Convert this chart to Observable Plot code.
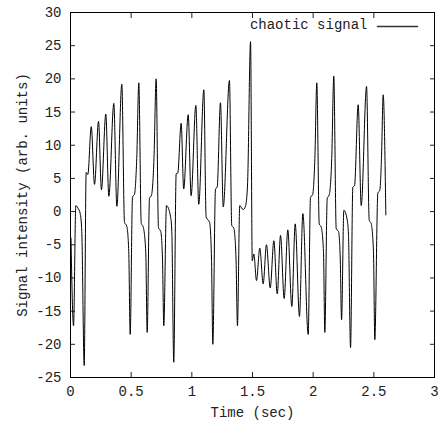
<!DOCTYPE html>
<html><head><meta charset="utf-8">
<script src="https://cdn.jsdelivr.net/npm/d3@7"></script>
<script src="https://cdn.jsdelivr.net/npm/@observablehq/plot@0.6"></script>
<style>body{margin:0;background:#fff}</style>
</head><body><div id="chart"></div>
<script>
const time = [0.004,0.025,0.044,0.062,0.080,0.093,0.113,0.129,0.143,0.171,0.198,0.231,0.255,0.291,0.316,0.357,0.382,0.423,0.445,0.464,0.480,0.492,0.511,0.527,0.546,0.563,0.583,0.599,0.620,0.632,0.651,0.668,0.688,0.706,0.725,0.744,0.758,0.769,0.791,0.824,0.835,0.851,0.871,0.884,0.912,0.933,0.970,0.994,1.033,1.057,1.099,1.118,1.146,1.162,1.173,1.195,1.209,1.236,1.259,1.310,1.329,1.346,1.364,1.376,1.395,1.423,1.442,1.459,1.484,1.498,1.511,1.533,1.560,1.588,1.615,1.646,1.676,1.704,1.731,1.761,1.791,1.824,1.852,1.887,1.915,1.959,1.978,1.995,2.014,2.030,2.050,2.066,2.085,2.096,2.116,2.132,2.153,2.170,2.190,2.209,2.223,2.234,2.253,2.281,2.291,2.308,2.327,2.341,2.371,2.396,2.440,2.462,2.478,2.497,2.508,2.533,2.549,2.563,2.577,2.599];
const signal = [-4,-17.2,0.9,0.5,-0.3,-3,-23.2,5.9,5.6,12.8,4.1,13.6,3.3,14.7,2.3,16.3,0.8,19.2,-1.6,-2.2,-6,-18.5,2.2,2.6,8,19.4,-1.75,-2.3,-6,-18.2,2,2.5,8,20,-2.4,-3,-7,-17.2,0.9,-0.7,-3,-22.7,5.7,5.8,13.3,3.4,14.6,2.4,16,1.1,18.35,-0.85,-1.6,-7,-20,3.4,3.7,16.4,0.7,19.75,-2.1,-2.5,-7,-17.2,0.9,0.3,0.8,4,25.6,-7.4,-6.4,-10.4,-5.5,-10.9,-5,-11.5,-4.4,-12.4,-3.6,-13.1,-2.75,-14.3,-1.85,-15.8,-0.3,-18.5,2.2,2.5,8,19.4,-1.85,-2.3,-6,-18.2,2,2.5,8,20.4,-2.6,-3,-7,-16.3,0.2,-1.3,-3.5,-20.5,3.7,3.9,16.1,0.9,18.85,-1.3,-1.8,-6,-19.3,2.8,3.2,8,17.6,-0.5];
const xTicks = [0, 0.5, 1, 1.5, 2, 2.5, 3];
const yTicks = [-25, -20, -15, -10, -5, 0, 5, 10, 15, 20, 25, 30];
const seriesLabel = "chaotic signal";
const xLabel = "Time (sec)";
const yLabel = "Signal intensity (arb. units)";

const data = time.map((t, i) => ({t, v: signal[i]}));
const lineShape = {draw(c, l) { c.moveTo(0, 0); c.lineTo(0, -l); }};

const chart = Plot.plot({
  width: 440, height: 421,
  marginLeft: 70, marginRight: 6, marginTop: 12, marginBottom: 44,
  style: {fontFamily: "'Liberation Mono', monospace", fontSize: "14px", color: "#222", background: "#fff"},
  x: {domain: [0, 3]},
  y: {domain: [-25, 30]},
  marks: [
    Plot.axisX(xTicks, {anchor: "bottom", tickSize: -5, tickPadding: 14, label: xLabel, labelAnchor: "center", labelOffset: 39, labelArrow: "none", tickFormat: d => String(d)}),
    Plot.axisX(xTicks, {anchor: "top", tickSize: -5, fill: "none", label: null}),
    Plot.axisY(yTicks, {anchor: "left", tickSize: -5, tickPadding: 14, label: yLabel, labelAnchor: "center", labelOffset: 53, labelArrow: "none", tickFormat: d => String(d)}),
    Plot.axisY(yTicks, {anchor: "right", tickSize: -5, fill: "none", label: null}),
    Plot.line(data, {x: "t", y: "v", stroke: "#000", strokeWidth: 1, curve: "monotone-x"}),
    Plot.frame({stroke: "#000"}),
    Plot.text([seriesLabel], {frameAnchor: "top-right", dx: -67, dy: 12, textAnchor: "end", lineAnchor: "middle", text: d => d}),
    Plot.vector([0], {frameAnchor: "top-right", dx: -57, dy: 14, length: 40, rotate: 90, anchor: "start", shape: lineShape, stroke: "#333"})
  ]
});
document.getElementById("chart").appendChild(chart);
</script>
</body></html>
